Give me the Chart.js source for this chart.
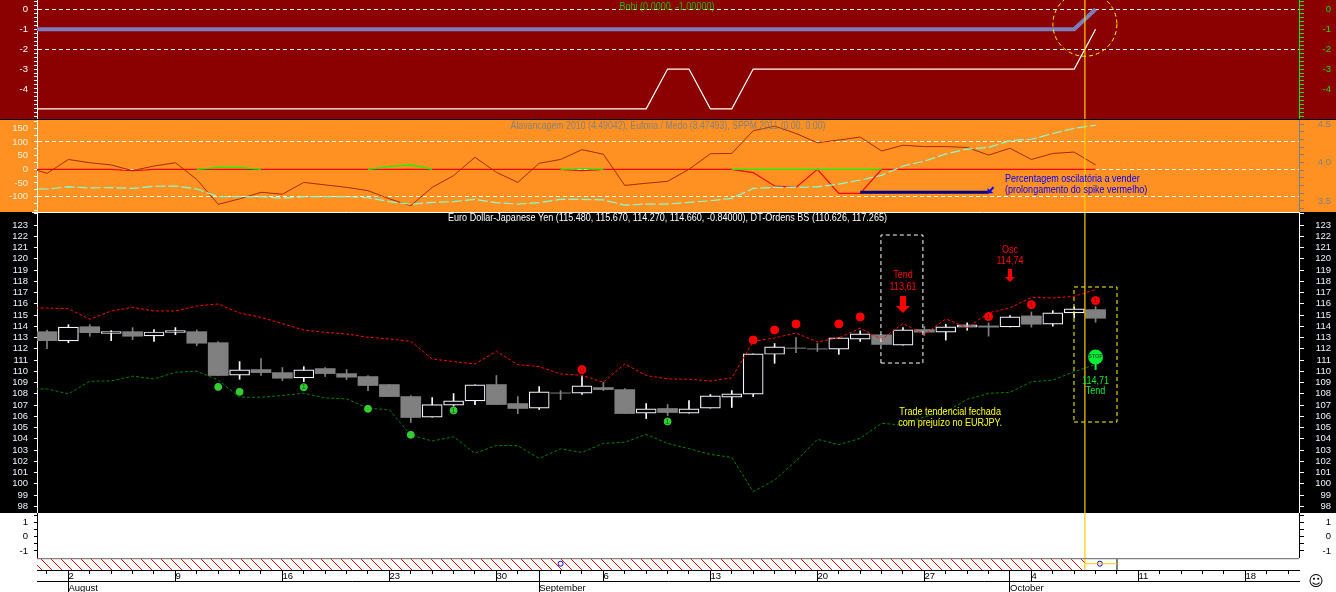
<!DOCTYPE html>
<html>
<head>
<meta charset="utf-8">
<style>
  html, body { margin: 0; padding: 0; background: #fff; overflow: hidden; }
  #wrap { position: relative; width: 1336px; height: 592px; }
  #wrap:before { content: ''; position: absolute; left: 0; top: 0; width: 1336px; height: 513px; background: #000; }
  canvas { position: absolute; left: 0; display: block; }
</style>
</head>
<body>
<div id="wrap">
  <canvas id="bobi" width="1336" height="119" style="top:0;background:#8b0000"></canvas>
  <canvas id="osc" width="1336" height="92" style="top:120px;background:#ff9122"></canvas>
  <canvas id="price" width="1336" height="301" style="top:212px;background:#000"></canvas>
  <canvas id="blank" width="1336" height="45" style="top:513px;background:#fff"></canvas>
  <canvas id="time" width="1336" height="34" style="top:558px;background:#fff"></canvas>
</div>
<script src="https://cdn.jsdelivr.net/npm/chart.js@4"></script>
<script>
// candles, one per weekday, index 0 is 30 July
var opens = [113.52,112.69,113.96,113.37,113.52,113.14,113.46,113.52,112.54,109.65,110.15,109.88,109.41,110.24,109.79,109.53,108.82,
  107.75,105.92,106.98,107.37,108.82,107.13,106.72,108.08,108.05,108.55,108.37,106.27,106.69,106.27,106.72,107.69,107.96,111.51,112.07,
  112.0,111.97,112.86,113.24,112.32,113.71,113.47,113.92,114.03,113.95,114.92,114.18,115.19,115.48];
var closes = [112.72,113.93,113.43,113.52,113.11,113.49,113.61,112.49,109.62,110.12,109.88,109.38,110.12,109.79,109.47,108.73,107.75,
  105.89,107.04,107.37,108.79,107.04,106.69,108.17,108.05,108.7,108.37,106.24,106.66,106.33,106.66,107.81,107.99,111.54,112.16,112.04,
  111.97,112.97,113.33,112.38,113.68,113.47,113.95,114.12,113.92,114.83,114.18,115.19,115.54,114.71];
var highs = [113.67,114.14,114.14,113.61,113.88,113.7,113.88,113.67,112.63,110.86,111.12,110.33,110.41,110.33,110.15,109.62,108.82,
  107.84,107.66,108.02,108.79,109.62,107.75,108.64,108.28,109.53,109.02,108.46,107.13,107.04,107.4,107.93,108.28,111.54,112.46,112.99,
  112.47,112.97,113.59,113.24,113.89,113.98,114.18,114.3,114.3,114.95,115.27,115.39,115.72,115.75];
var lows = [112.01,112.54,113.11,112.72,112.81,112.66,113.25,112.28,109.6,109.29,109.62,109.17,109.08,109.53,109.26,108.28,107.75,
  105.44,105.92,106.9,107.04,107.04,106.24,106.6,107.48,107.93,108.28,106.24,105.8,106.06,106.27,106.72,106.78,107.75,110.71,111.66,
  111.76,111.5,112.65,112.38,112.32,113.18,112.77,113.65,113.12,113.95,113.92,114.01,114.77,114.36];

// line series start one day before the first candle (index -1)
var bandUpper = [115.62,115.62,115.56,114.62,115.36,115.68,115.36,115.36,115.8,115.98,115.18,114.79,114.23,113.67,113.46,113.31,113.02,112.87,
  112.66,111.09,110.86,110.65,111.78,110.59,110.41,109.76,109.64,109.02,110.65,109.62,109.32,109.29,109.14,109.41,112.66,112.96,113.4,
  112.61,112.97,113.83,112.83,114.24,113.27,114.65,113.86,115.19,115.63,116.57,116.51,116.66,117.27];
var bandLower = [108.43,108.43,107.99,109.11,109.14,109.56,109.32,109.91,110.0,109.23,107.69,107.69,107.84,108.05,107.63,107.54,106.72,106.57,
  104.33,103.8,104.18,102.7,103.41,103.38,102.25,103.11,102.79,103.59,103.68,104.39,103.59,103.11,102.61,102.34,99.3,100.33,102.02,
  103.95,103.47,104.04,105.37,105.22,105.96,106.4,107.5,108.04,108.13,109.07,109.22,109.96,110.6];
var euphoria = [10,-15,36,24,16,-5,12,24,-37,-128,-108,-84,-91,-48,-57,-66,-78,-108,-133,-66,-23,44,-11,-48,22,36,72,55,-59,-51,-44,0,57,58,141,158,131,97,107,118,67,88,83,83,80,52,77,36,58,63,16];
var leverage = [-70,-72,-64,-68,-67,-70,-62,-61,-72,-100,-100,-100,-106,-100,-100,-100,-104,-118,-128,-121,-118,-110,-122,-127,-122,-110,-110,-112,-131,-127,-127,-121,-115,-106,-70,-66,-66,-64,-54,-39,-22,12,30,56,74,80,105,110,131,150,161];
var sppmNeg = [0,0,0,0,0,-5,0,0,0,0,0,0,0,0,0,0,0,0,0,0,0,0,0,0,0,0,-5,0,0,0,0,0,0,0,-12,-61,-66,0,-88,-88,0,0,0,0,0,0,0,0,0,0,0];
var sppmPos = [null,null,null,null,null,null,null,null,0,7,7,0,null,null,null,null,0,10,16,0,null,null,null,null,null,0,3,0,null,null,null,null,null,0,0,0,0,0,0,0,0];
var bobiFast = [-1,-1,-1,-1,-1,-1,-1,-1,-1,-1,-1,-1,-1,-1,-1,-1,-1,-1,-1,-1,-1,-1,-1,-1,-1,-1,-1,-1,-1,-1,-1,-1,-1,-1,-1,-1,-1,-1,-1,-1,-1,-1,-1,-1,-1,-1,-1,-1,-1,-1,0];
var bobiSlow = [-5,-5,-5,-5,-5,-5,-5,-5,-5,-5,-5,-5,-5,-5,-5,-5,-5,-5,-5,-5,-5,-5,-5,-5,-5,-5,-5,-5,-5,-5,-3,-3,-5,-5,-3,-3,-3,-3,-3,-3,-3,-3,-3,-3,-3,-3,-3,-3,-3,-3,-1];

// signal dots on the price panel: candle index and price
var redDotIdx = [33,34,35,37,38];
var redDotVal = [112.78,113.67,114.2,114.21,114.83];
var redOneIdx = [44,46,49];
var redOneVal = [114.86,115.92,116.28];
var redZeroIdx = [25];
var redZeroVal = [110.15];
var greenDotIdx = [8,9,15,17];
var greenDotVal = [108.61,108.17,106.66,104.35];
var greenOneIdx = [12,19,29];
var greenOneVal = [108.58,106.51,105.53];

var dayTicks = [];
for (var d = 0; d <= 58; d++) dayTicks.push(d);
var weekIdx = [1,6,11,16,21,26,31,36,41,46,51,56];
var weekLabels = ['2','9','16','23','30','6','13','20','27','4','11','18'];
var monthIdx = [1,23,45];
var monthLabels = ['August','September','October'];

var xMin = -0.467, xMax = 58.505, cursor = 48.5, lastBar = 49;
var FONT = '"Liberation Sans", Arial, sans-serif';
Chart.defaults.font.family = FONT;
Chart.defaults.font.size = 9.5;
Chart.defaults.animation = false;

function series(values, start) {
  return values.map(function (v, i) { return { x: start + i, y: v }; });
}
function pairs(xs, ys) {
  return xs.map(function (x, i) { return { x: x, y: ys[i] }; });
}
function line(data, color, width, dash) {
  return { type: 'line', data: data, borderColor: color, borderWidth: width, borderDash: dash || [],
    pointRadius: 0, tension: 0, fill: false, spanGaps: false, yAxisID: 'y', xAxisID: 'x' };
}
function dots(data, color, radius, edge) {
  return { type: 'line', data: data, showLine: false, pointRadius: radius, pointHoverRadius: radius,
    pointBackgroundColor: color, pointBorderColor: edge || color, pointBorderWidth: 1, yAxisID: 'y', xAxisID: 'x' };
}
function box(x0, x1, y0, y1, color) {
  return line([{x:x0,y:y0},{x:x1,y:y0},{x:x1,y:y1},{x:x0,y:y1},{x:x0,y:y0}], color, 1, [4, 3]);
}
function cursorLine(lo, hi) {
  return line([{x:cursor,y:lo},{x:cursor,y:hi}], '#ffcc00', 1.2);
}
function whole(v, step) {
  return Math.abs(v / step - Math.round(v / step)) < 1e-6;
}
// o: min, max, step, labelStep, color, side, dashed, labelColor, hide
function axisY(o) {
  var left = o.side === 'left';
  return {
    type: 'linear', position: o.side, min: o.min, max: o.max,
    afterFit: function (s) { s.width = left ? 37 : 32; s.paddingTop = 0; s.paddingBottom = 0; },
    border: { color: o.color, width: 1, dash: o.dashed ? [4, 3] : [] },
    grid: {
      drawOnChartArea: !!o.dashed, tickColor: o.color, tickLength: left ? 3 : 5, tickWidth: 1,
      color: function (c) {
        if (o.dashed && o.dashed.indexOf(Math.round(c.tick.value * 100) / 100) >= 0) return '#fff';
        return 'rgba(0,0,0,0)';
      }
    },
    ticks: {
      stepSize: o.step, includeBounds: false, autoSkip: false, color: o.labelColor || o.color,
      padding: 6, crossAlign: left ? 'near' : 'far', maxRotation: 0,
      callback: function (v) {
        if (!whole(v, o.labelStep)) return '';
        var r = Math.round(v * 10) / 10;
        if (o.hide && o.hide.indexOf(r) >= 0) return '';
        return o.labelStep < 1 ? r.toFixed(1) : String(r);
      }
    }
  };
}
function axisX() {
  return { type: 'linear', display: false, min: xMin, max: xMax, offset: false, grid: { offset: false } };
}
// the original text is tall and narrow, so the glyphs are squeezed a little
function text(ctx, str, x, y, color, font, align, squeeze) {
  ctx.save();
  ctx.translate(x, y);
  if (!font) ctx.scale(squeeze || 0.87, 1);
  ctx.font = font || '10.4px ' + FONT;
  ctx.fillStyle = color;
  ctx.textAlign = align || 'center';
  ctx.textBaseline = 'middle';
  ctx.fillText(str, 0, 0);
  ctx.restore();
}
function panel(id, datasets, scales, notes) {
  return new Chart(document.getElementById(id), {
    data: { datasets: datasets },
    options: {
      responsive: false, devicePixelRatio: 1,
      layout: { padding: { left: 0, right: 5, top: 0, bottom: 0 }, autoPadding: false },
      plugins: { legend: { display: false }, tooltip: { enabled: false } },
      scales: scales
    },
    plugins: notes ? [{ id: 'notes', afterDatasetsDraw: notes }] : []
  });
}

// top panel
var bobiMin = -5.51, bobiMax = 0.467;
panel('bobi', [
  cursorLine(bobiMin, bobiMax),
  line(series(bobiFast, -1), '#7b7dbd', 4),
  line(series(bobiSlow, -1), '#ffffff', 1.2)
], {
  x: axisX(),
  y: axisY({ min: bobiMin, max: bobiMax, step: 0.2, labelStep: 1, color: '#ffffff', side: 'left', dashed: [0, -2], hide: [-5] }),
  yR: axisY({ min: bobiMin, max: bobiMax, step: 0.2, labelStep: 1, color: '#22dd00', side: 'right', hide: [-5] })
}, function (chart) {
  var c = chart.ctx, sx = chart.scales.x, sy = chart.scales.y;
  text(c, 'Bobi (0.0000, -1.00000)', 667, 7, '#22bb00');
  c.save();
  c.strokeStyle = '#ffff00';
  c.setLineDash([4, 3]);
  c.beginPath();
  c.arc(sx.getPixelForValue(cursor), sy.getPixelForValue(-0.75), 32, 0, Math.PI * 2);
  c.stroke();
  c.restore();
});

// oscillator panel
var oscMin = -156.1, oscMax = 180.3;
panel('osc', [
  cursorLine(oscMin, oscMax),
  line([{x:38,y:-84},{x:44,y:-84}], '#000080', 3),
  line(series(leverage, -1), '#7fffd4', 1.2, [10, 3]),
  line(series(euphoria, -1), '#a52a00', 1),
  line(series(sppmPos, -1), '#00ff00', 1.2),
  line(series(sppmNeg, -1), '#ff0000', 1.2)
], {
  x: axisX(),
  y: axisY({ min: oscMin, max: oscMax, step: 25, labelStep: 50, color: '#ffffff', side: 'left', dashed: [100, 0, -100], labelColor: '#fff0dc', hide: [-150] }),
  yR: axisY({ min: 3.357, max: 4.552, step: 0.1, labelStep: 0.5, color: '#808080', side: 'right' })
}, function (chart) {
  var c = chart.ctx, sx = chart.scales.x, sy = chart.scales.y;
  text(c, 'Alavancagem 2010 (4.49042), Euforia / Medo (8.47493), SPPM 2011 (0.00, 0.00)', 668, 6, '#808080', null, null, 0.843);
  text(c, 'Percentagem oscilatória a vender', 1005, 59, '#0000ff', null, 'left');
  text(c, '(prolongamento do spike vermelho)', 1005, 70, '#0000ff', null, 'left');
  var ax = sx.getPixelForValue(44), ay = sy.getPixelForValue(-84);
  c.save();
  c.strokeStyle = c.fillStyle = '#0000ff';
  c.lineWidth = 2;
  c.beginPath(); c.moveTo(ax + 5, ay - 5); c.lineTo(ax, ay); c.stroke();
  c.beginPath(); c.moveTo(ax - 1, ay + 1); c.lineTo(ax + 5, ay + 1); c.lineTo(ax - 1, ay - 4); c.fill();
  c.restore();
});

// price panel
var priceMin = 97.4, priceMax = 124.156;
function isUp(i) { return closes[i] >= opens[i]; }
var bodies = {
  type: 'bar', grouped: false, barThickness: 20, borderSkipped: false,
  data: opens.map(function (o, i) { return { x: i, y: [o, closes[i]] }; }),
  backgroundColor: function (c) { return isUp(c.dataIndex) ? '#000000' : '#808080'; },
  borderColor: function (c) { return isUp(c.dataIndex) ? '#f4f4ff' : '#808080'; },
  borderWidth: function (c) { return isUp(c.dataIndex) ? 1.2 : 0; },
  yAxisID: 'y', xAxisID: 'x'
};
var wicks = {
  type: 'bar', grouped: false, barThickness: 1, borderSkipped: false,
  data: highs.map(function (h, i) { return { x: i, y: [lows[i], h] }; }),
  backgroundColor: function (c) { return isUp(c.dataIndex) ? '#ffffff' : '#808080'; },
  yAxisID: 'y', xAxisID: 'x'
};
panel('price', [
  cursorLine(priceMin, priceMax),
  box(47.99, 50, 105.49, 117.49, '#ffff00'),
  box(38.97, 40.93, 110.73, 122.11, '#ffffff'),
  dots(pairs(redDotIdx, redDotVal), '#ff0000', 4),
  dots(pairs(redOneIdx, redOneVal), '#ff0000', 4),
  dots(pairs(redZeroIdx, redZeroVal), '#ff0000', 4),
  dots(pairs(greenDotIdx, greenDotVal), '#32cd32', 3.5),
  dots(pairs(greenOneIdx, greenOneVal), '#32cd32', 3.5),
  line(series(bandUpper, -1), '#ff0000', 1, [3, 2]),
  line(series(bandLower, -1), '#008000', 1, [3, 2]),
  bodies,
  wicks
], {
  x: axisX(),
  y: axisY({ min: priceMin, max: priceMax, step: 1, labelStep: 1, color: '#ffffff', side: 'left', labelColor: '#eaf2ff', hide: [124] }),
  yR: axisY({ min: priceMin, max: priceMax, step: 1, labelStep: 1, color: '#ffffff', side: 'right', labelColor: '#eaf2ff', hide: [124] })
}, function (chart) {
  var c = chart.ctx, sx = chart.scales.x, sy = chart.scales.y;
  function X(i) { return sx.getPixelForValue(i); }
  function Y(v) { return sy.getPixelForValue(v); }
  function arrow(i, top, bottom, half, shaft) {
    var yt = Y(top), yb = Y(bottom), xc = X(i);
    c.beginPath();
    c.moveTo(xc - shaft, yt); c.lineTo(xc + shaft, yt); c.lineTo(xc + shaft, yb - half);
    c.lineTo(xc + half, yb - half); c.lineTo(xc, yb); c.lineTo(xc - half, yb - half);
    c.lineTo(xc - shaft, yb - half); c.closePath();
    c.fillStyle = '#ff0000';
    c.fill();
  }
  // white rule under the oscillator panel
  c.save();
  c.strokeStyle = '#fff';
  c.beginPath(); c.moveTo(32, 0.5); c.lineTo(1299, 0.5); c.stroke();
  c.restore();
  text(c, 'Euro Dollar-Japanese Yen (115.480, 115.670, 114.270, 114.660, -0.84000), DT-Ordens BS (110.626, 117.265)', 667.5, 6, '#ffffff');
  var small = '8px ' + FONT;
  redOneIdx.forEach(function (v, k) { text(c, '1', X(v), Y(redOneVal[k]), '#7a0000', small); });
  redZeroIdx.forEach(function (v, k) { text(c, '0', X(v), Y(redZeroVal[k]), '#7a0000', small); });
  greenOneIdx.forEach(function (v, k) { text(c, '1', X(v), Y(greenOneVal[k]), '#0b6b0b', small); });
  text(c, 'Tend', X(40), Y(118.56), '#ff0000');
  text(c, '113,61', X(40), Y(117.49), '#ff0000');
  arrow(40, 116.69, 115.18, 7, 3);
  text(c, 'Osc', X(45), Y(120.78), '#ff0000');
  text(c, '114,74', X(45), Y(119.8), '#ff0000');
  arrow(45, 119.09, 117.93, 5, 2);
  text(c, 'Trade tendencial fechada', X(42.2), Y(106.38), '#ffff00');
  text(c, 'com prejuízo no EURJPY.', X(42.2), Y(105.4), '#ffff00');
  text(c, '114,71', X(49), Y(109.13), '#00ee33');
  text(c, 'Tend', X(49), Y(108.24), '#00ee33');
  // stop sign
  var sxp = X(49), syp = Y(111.27);
  c.save();
  c.fillStyle = '#00ee33';
  c.fillRect(sxp - 1, syp, 2, 13);
  c.beginPath();
  c.arc(sxp, syp, 7.5, 0, Math.PI * 2);
  c.fill();
  c.restore();
  text(c, 'STOP', sxp, syp, '#063', 'bold 5.5px ' + FONT);
});

// empty lower panel
var blankMin = -1.49, blankMax = 1.65;
panel('blank', [cursorLine(blankMin, blankMax)], {
  x: axisX(),
  y: axisY({ min: blankMin, max: blankMax, step: 0.5, labelStep: 1, color: '#000000', side: 'left' }),
  yR: axisY({ min: blankMin, max: blankMax, step: 0.5, labelStep: 1, color: '#000000', side: 'right' })
});

// red hatch strip and the time axis
var hatchTile = document.createElement('canvas');
hatchTile.width = 10; hatchTile.height = 10;
(function (c) {
  c.fillStyle = '#fff'; c.fillRect(0, 0, 10, 10);
  c.strokeStyle = '#ff0000'; c.lineWidth = 1;
  c.beginPath();
  c.moveTo(-1, -1); c.lineTo(11, 11);
  c.stroke();
})(hatchTile.getContext('2d'));
var hatch = hatchTile.getContext('2d').createPattern(hatchTile, 'repeat');

function axisTime(weight, height, idx, labels, tick, border, pad) {
  return {
    type: 'linear', position: 'bottom', min: xMin, max: xMax, weight: weight, offset: false,
    afterBuildTicks: function (s) { s.ticks = idx.map(function (v) { return { value: v }; }); },
    afterFit: function (s) { s.height = height; s.paddingLeft = 0; s.paddingRight = 0; },
    border: { display: border, color: '#000', width: 1 },
    grid: { drawOnChartArea: false, tickColor: '#000', tickLength: tick, tickWidth: 1 },
    ticks: {
      autoSkip: false, maxRotation: 0, minRotation: 0, align: 'start', padding: pad, color: '#000',
      callback: function (v) { var k = idx.indexOf(v); return k >= 0 && labels[k] ? labels[k] : ''; }
    }
  };
}
var weekAll = weekIdx.concat(monthIdx.slice(1));
new Chart(document.getElementById('time'), {
  data: { datasets: [
    line(pairs([cursor, lastBar + 1], [0.55, 0.55]), '#ffcc00', 1),
    dots(pairs([24, 49.2], [0.55, 0.55]), 'rgba(0,0,0,0)', 2.5, '#0000ff'),
    line([{x:xMin,y:1},{x:xMax,y:1}], '#808080', 1.5),
    line([{x:cursor,y:0},{x:cursor,y:1}], '#ffcc00', 1.2),
    line([{x:lastBar + 1,y:0},{x:lastBar + 1,y:1}], '#000', 1),
    Object.assign(line([{x:xMin,y:1},{x:cursor,y:1}], 'rgba(0,0,0,0)', 0), { fill: 'origin', backgroundColor: hatch })
  ] },
  options: {
    responsive: false, devicePixelRatio: 1,
    layout: { padding: { left: 37, right: 37, top: 0, bottom: 0 }, autoPadding: false },
    plugins: { legend: { display: false }, tooltip: { enabled: false } },
    scales: {
      y: { type: 'linear', display: false, min: 0, max: 1.05 },
      x: axisTime(0, 0, dayTicks, [], 4, true, 0),
      xWeek: axisTime(1, 11.5, weekAll, weekLabels, 11.5, false, -11),
      xMonth: axisTime(2, 10.5, monthIdx, monthLabels, 11, true, -10)
    }
  },
  plugins: [{ id: 'face', afterDraw: function (chart) {
    text(chart.ctx, '\u263A', 1316, 24, '#000', '15px "DejaVu Sans"');
  } }]
});
</script>
</body>
</html>
